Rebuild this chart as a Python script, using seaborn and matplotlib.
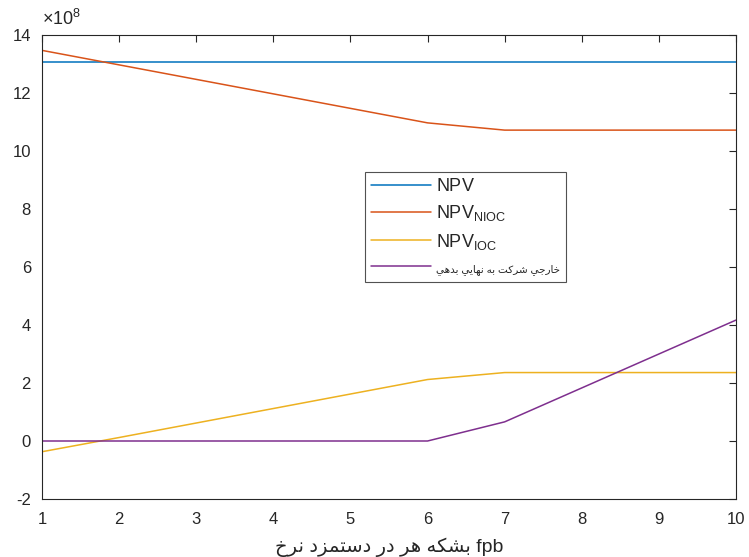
import matplotlib
matplotlib.use("Agg")
import matplotlib.pyplot as plt
import seaborn as sns
import pandas as pd
import numpy as np

# ---- data (values in units of 1e8) ----
x_vals = [1, 2, 3, 4, 5, 6, 7, 8, 9, 10]
npv = [13.08, 13.08, 13.08, 13.08, 13.08, 13.08, 13.08, 13.08, 13.08, 13.08]
npv_nioc = [13.47, 12.97, 12.47, 11.97, 11.47, 10.97, 10.72, 10.72, 10.72, 10.72]
npv_ioc = [-0.37, 0.12, 0.62, 1.12, 1.62, 2.12, 2.36, 2.36, 2.36, 2.36]
debt = [0.0, 0.0, 0.0, 0.0, 0.0, 0.0, 0.66, 1.83, 3.0, 4.17]
y_ticks = [-2, 0, 2, 4, 6, 8, 10, 12, 14]
exponent_label = r"$\mathregular{\times10^{8}}$"

label_npv = r"$\mathregular{NPV}$"
label_nioc = r"$\mathregular{NPV_{NIOC}}$"
label_ioc = r"$\mathregular{NPV_{IOC}}$"
label_debt = "بدهي نهايي به شركت خارجي"
xlabel_text = "نرخ دستمزد در هر بشکه fpb"
colors = ["#0072BD", "#D95319", "#EDB120", "#7E2F8E"]

# ---- simple Arabic shaping (per word, MATLAB-like word order) ----
DUAL = {
    "ب": (0xFE8F, 0xFE90, 0xFE91, 0xFE92), "ت": (0xFE95, 0xFE96, 0xFE97, 0xFE98),
    "ج": (0xFE9D, 0xFE9E, 0xFE9F, 0xFEA0), "خ": (0xFEA5, 0xFEA6, 0xFEA7, 0xFEA8),
    "س": (0xFEB1, 0xFEB2, 0xFEB3, 0xFEB4), "ش": (0xFEB5, 0xFEB6, 0xFEB7, 0xFEB8),
    "ك": (0xFED9, 0xFEDA, 0xFEDB, 0xFEDC), "ک": (0xFB8E, 0xFB8F, 0xFB90, 0xFB91),
    "م": (0xFEE1, 0xFEE2, 0xFEE3, 0xFEE4), "ن": (0xFEE5, 0xFEE6, 0xFEE7, 0xFEE8),
    "ه": (0xFEE9, 0xFEEA, 0xFEEB, 0xFEEC), "ي": (0xFEF1, 0xFEF2, 0xFEF3, 0xFEF4),
}
RIGHT = {
    "ا": (0xFE8D, 0xFE8E), "د": (0xFEA9, 0xFEAA), "ر": (0xFEAD, 0xFEAE),
    "ز": (0xFEAF, 0xFEB0),
}


def shape_word(w):
    if not any(c in DUAL or c in RIGHT for c in w):
        return w
    out = []
    for i, c in enumerate(w):
        prev_j = i > 0 and w[i - 1] in DUAL
        next_j = c in DUAL and i < len(w) - 1 and (w[i + 1] in DUAL or w[i + 1] in RIGHT)
        if c in DUAL:
            f = DUAL[c]
            idx = 3 if (prev_j and next_j) else 1 if prev_j else 2 if next_j else 0
            out.append(chr(f[idx]))
        elif c in RIGHT:
            out.append(chr(RIGHT[c][1 if prev_j else 0]))
        else:
            out.append(c)
    return "".join(reversed(out))


def shape(text):
    return " ".join(shape_word(w) for w in text.split(" "))


sns.set_style("white")
plt.rcParams["font.family"] = ["Liberation Sans", "DejaVu Sans"]
plt.rcParams["mathtext.fontset"] = "custom"
plt.rcParams["mathtext.rm"] = "Liberation Sans"
plt.rcParams["axes.unicode_minus"] = False

labels = [label_npv, label_nioc, label_ioc, shape(label_debt)]
series = [npv, npv_nioc, npv_ioc, debt]
df = pd.concat(
    [pd.DataFrame({"x": x_vals, "y": s, "series": lab})
     for s, lab in zip(series, labels)],
    ignore_index=True,
)

fig = plt.figure(figsize=(7.49, 5.57), dpi=100)
ax = fig.add_axes([42 / 749, (557 - 499) / 557, 694 / 749, 464 / 557])
sns.lineplot(data=df, x="x", y="y", hue="series", hue_order=labels,
             palette=colors, linewidth=1.1, ax=ax, legend=True)

ax.set_xlim(1, 10)
ax.set_ylim(y_ticks[0], y_ticks[-1])
ax.set_xticks(x_vals)
ax.set_xticklabels([str(v) for v in x_vals])
ax.set_yticks(y_ticks)
ax.set_yticklabels([str(v) for v in y_ticks])
ax.text(0.0, 1.012, exponent_label, transform=ax.transAxes, ha="left", va="bottom",
        fontsize=13, color="#262626")
ax.tick_params(direction="in", length=5, width=0.8, labelsize=12, colors="#262626",
               top=True, right=True)
ax.tick_params(axis="x", pad=9)
ax.tick_params(axis="y", pad=8)
for sp in ax.spines.values():
    sp.set_color("#262626")
    sp.set_linewidth(0.8)
ax.set_ylabel("")
ax.set_xlabel(shape(xlabel_text), fontsize=14, color="#262626", labelpad=8)

leg = ax.legend(loc="upper left", bbox_to_anchor=(0.4654, 0.7047), fontsize=13,
                frameon=True, fancybox=False, borderpad=0.35, labelspacing=0.45,
                handlelength=3.3, handletextpad=0.28, borderaxespad=0)
leg.get_frame().set_edgecolor("#262626")
leg.get_frame().set_linewidth(0.8)
arabic_txt = leg.get_texts()[3]
arabic_txt.set_fontsize(7.5)

fig.savefig("out.png", dpi=100)
